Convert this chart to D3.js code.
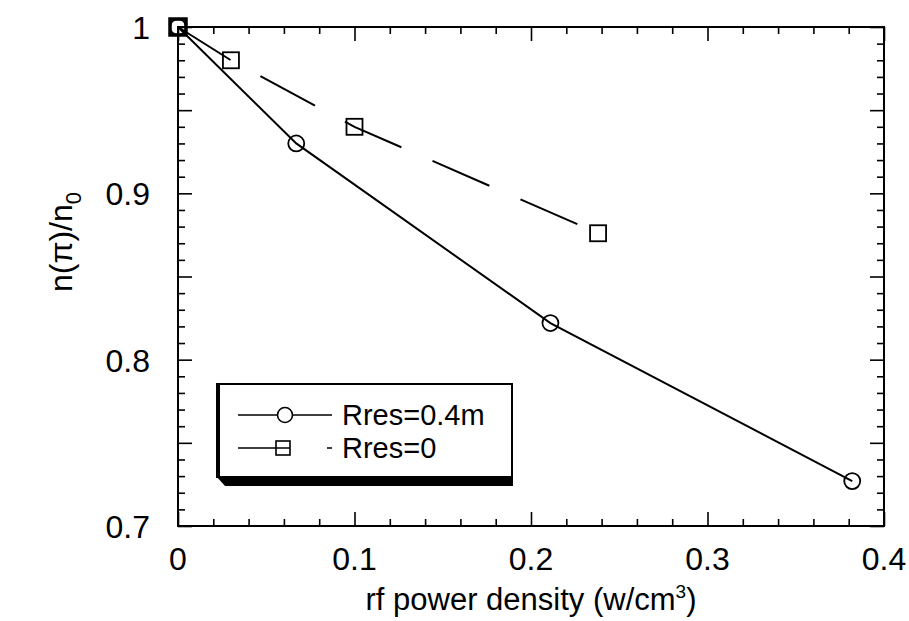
<!DOCTYPE html>
<html>
<head>
<meta charset="utf-8">
<script src="https://cdn.jsdelivr.net/npm/d3@7"></script>
<style>
  body { margin: 0; background: #fff; }
  text { fill: #000; }
  .narrow { font-family: "Liberation Sans Narrow", "Liberation Sans", Arial, sans-serif; }
  .sans { font-family: "Liberation Sans", Arial, Helvetica, sans-serif; }
</style>
</head>
<body>
<div id="chart"></div>
<script>
// data
const powerCircle = [0, 0.067, 0.211, 0.382];
const ratioCircle = [1.0, 0.930, 0.822, 0.727];
const powerSquare = [0, 0.030, 0.100, 0.238];
const ratioSquare = [1.0, 0.980, 0.940, 0.876];

const xTickValues = [0, 0.1, 0.2, 0.3, 0.4];
const xTickLabels = ['0', '0.1', '0.2', '0.3', '0.4'];
const yTickValues = [0.7, 0.8, 0.9, 1];
const yTickLabels = ['0.7', '0.8', '0.9', '1'];
const legendLabels = ['Rres=0.4m', 'Rres=0'];

const width = 909, height = 621;

const svg = d3.select('#chart').append('svg')
  .attr('width', width)
  .attr('height', height)
  .attr('viewBox', [0, 0, width, height]);

const x = d3.scaleLinear().domain([0, 0.4]).range([178, 884]);
const y = d3.scaleLinear().domain([0.7, 1]).range([526, 27]);

const frame = svg.append('g').attr('id', 'frame');
const axes  = svg.append('g').attr('id', 'axes');
const lines = svg.append('g').attr('id', 'lines');
const marks = svg.append('g').attr('id', 'marks');
const legend = svg.append('g').attr('id', 'legend');

// ticks (inward, minor + major) ---------------------------------------------
const xMinor = x.ticks(20), yMinor = y.ticks(30);
const isMajorX = v => Math.abs(v * 10 - Math.round(v * 10)) < 1e-6;
const isMajorY = v => Math.abs(v * 20 - Math.round(v * 20)) < 1e-6;

function tickAxis(gen, pos, values) {
  const g = axes.append('g').attr('transform', pos).call(gen.tickValues(values).tickFormat('').tickSizeOuter(0));
  g.select('.domain').remove();
  g.selectAll('.tick line')
    .attr('stroke', '#000')
    .attr('stroke-width', 1.6);
  return g;
}
const axBottom = tickAxis(d3.axisTop(x), `translate(0,${y(0.7)})`, xMinor);
axBottom.selectAll('.tick line').attr('y2', d => isMajorX(d) ? -14 : -7);
const axTop = tickAxis(d3.axisBottom(x), `translate(0,${y(1)})`, xMinor);
axTop.selectAll('.tick line').attr('y2', d => isMajorX(d) ? 14 : 7);
const axLeft = tickAxis(d3.axisRight(y), `translate(${x(0)},0)`, yMinor);
axLeft.selectAll('.tick line').attr('x2', d => isMajorY(d) ? 14 : 7);
const axRight = tickAxis(d3.axisLeft(y), `translate(${x(0.4)},0)`, yMinor);
axRight.selectAll('.tick line').attr('x2', d => isMajorY(d) ? -14 : -7);

frame.append('rect')
  .attr('x', x(0)).attr('y', y(1))
  .attr('width', x(0.4) - x(0)).attr('height', y(0.7) - y(1))
  .attr('fill', 'none').attr('stroke', '#000').attr('stroke-width', 2);

// tick labels ---------------------------------------------------------------
axes.append('g').selectAll('text')
  .data(xTickValues)
  .join('text')
  .attr('class', 'narrow')
  .attr('x', d => x(d))
  .attr('y', 570)
  .attr('text-anchor', 'middle')
  .attr('font-size', 32)
  .text((d, i) => xTickLabels[i]);

axes.append('g').selectAll('text')
  .data(yTickValues)
  .join('text')
  .attr('class', 'narrow')
  .attr('x', 150)
  .attr('y', d => y(d) + 12)
  .attr('text-anchor', 'end')
  .attr('font-size', 32)
  .text((d, i) => yTickLabels[i]);

// axis titles ---------------------------------------------------------------
const xt = axes.append('text')
  .attr('class', 'narrow')
  .attr('x', 531).attr('y', 610)
  .attr('text-anchor', 'middle')
  .attr('font-size', 31);
xt.append('tspan').text('rf power density (w/cm');
xt.append('tspan').attr('font-size', 19).attr('dy', -12).text('3');
xt.append('tspan').attr('dy', 12).text(')');

const yt = axes.append('text')
  .attr('class', 'narrow')
  .attr('transform', 'translate(72,242) rotate(-90)')
  .attr('text-anchor', 'middle')
  .attr('font-size', 32);
yt.append('tspan').text('n(π)/n');
yt.append('tspan').attr('font-size', 22).attr('dy', 9).text('0');

// lines ---------------------------------------------------------------------
const circlePts = powerCircle.map((p, i) => [p, ratioCircle[i]]);
const squarePts = powerSquare.map((p, i) => [p, ratioSquare[i]]);
const line = d3.line().x(d => x(d[0])).y(d => y(d[1]));

lines.append('path')
  .attr('d', line(circlePts))
  .attr('fill', 'none').attr('stroke', '#000').attr('stroke-width', 2);

lines.append('path')
  .attr('d', line(squarePts))
  .attr('fill', 'none').attr('stroke', '#000').attr('stroke-width', 2)
  .attr('stroke-dasharray', '62,34');

// markers -------------------------------------------------------------------
marks.append('g').selectAll('circle')
  .data(circlePts)
  .join('circle')
  .attr('cx', d => x(d[0])).attr('cy', d => y(d[1]))
  .attr('r', 8)
  .attr('fill', 'none').attr('stroke', '#000').attr('stroke-width', 1.8);

marks.append('g').selectAll('rect')
  .data(squarePts)
  .join('rect')
  .attr('x', d => x(d[0]) - 8).attr('y', d => y(d[1]) - 8)
  .attr('width', 16).attr('height', 16)
  .attr('fill', 'none').attr('stroke', '#000')
  .attr('stroke-width', (d, i) => i === 0 ? 3.5 : 1.8);

// legend --------------------------------------------------------------------
const L = { x0: 217, y0: 384, x1: 512, y1: 477 };
legend.append('rect')
  .attr('x', L.x0).attr('y', L.y0)
  .attr('width', L.x1 - L.x0).attr('height', L.y1 - L.y0)
  .attr('fill', '#fff').attr('stroke', '#000').attr('stroke-width', 2);
legend.append('rect')
  .attr('x', L.x0 - 1).attr('y', L.y0)
  .attr('width', 4).attr('height', L.y1 - L.y0)
  .attr('fill', '#000');
legend.append('path')
  .attr('d', `M${L.x0 - 1},${L.y1 - 1}H${L.x1 + 1}V${L.y1 + 9}H${L.x0 + 8}Z`)
  .attr('fill', '#000');

const rowY = [415, 448];
legend.append('line')
  .attr('x1', 238).attr('x2', 332).attr('y1', rowY[0]).attr('y2', rowY[0])
  .attr('stroke', '#000').attr('stroke-width', 1.5);
legend.append('circle')
  .attr('cx', 285).attr('cy', rowY[0]).attr('r', 7.5)
  .attr('fill', '#fff').attr('stroke', '#000').attr('stroke-width', 1.6);
legend.append('line')
  .attr('x1', 238).attr('x2', 332).attr('y1', rowY[1]).attr('y2', rowY[1])
  .attr('stroke', '#000').attr('stroke-width', 1.5)
  .attr('stroke-dasharray', '52,37');
legend.append('rect')
  .attr('x', 276).attr('y', rowY[1] - 7).attr('width', 14).attr('height', 14)
  .attr('fill', '#fff').attr('stroke', '#000').attr('stroke-width', 1.6);
legend.append('line')
  .attr('x1', 276).attr('x2', 290).attr('y1', rowY[1]).attr('y2', rowY[1])
  .attr('stroke', '#000').attr('stroke-width', 1.5);

legend.selectAll('text.lbl')
  .data(legendLabels)
  .join('text')
  .attr('class', 'lbl sans')
  .attr('x', 342)
  .attr('y', (d, i) => rowY[i] + 10)
  .attr('font-size', 29)
  .text(d => d);
</script>
</body>
</html>
